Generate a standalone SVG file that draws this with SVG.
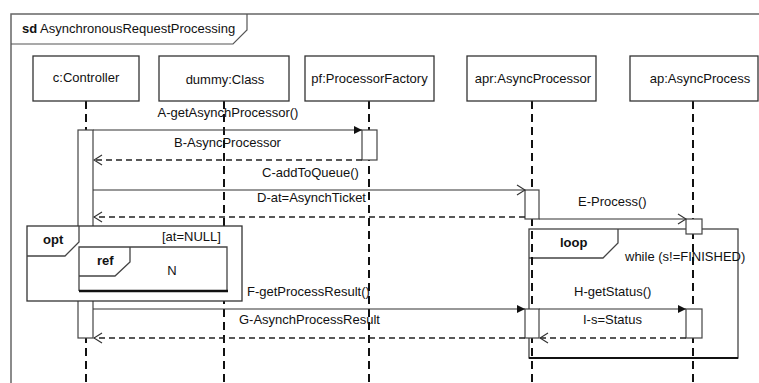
<svg xmlns="http://www.w3.org/2000/svg" width="759" height="383" viewBox="0 0 759 383">
<defs>
<style>
text{font-family:"Liberation Sans",Arial,sans-serif;font-size:13px;fill:#111}
.b{font-weight:bold}
.box{fill:#fff;stroke:#333;stroke-width:1.3}
.life{stroke:#111;stroke-width:2;stroke-dasharray:8 5;fill:none}
.act{fill:#fff;stroke:#444;stroke-width:1.2}
.msg{stroke:#333;stroke-width:1.2;fill:none}
.ret{stroke:#222;stroke-width:1.5;stroke-dasharray:6 4;fill:none}
.frm{fill:none;stroke:#444;stroke-width:1.3}
</style>
<marker id="fill" viewBox="0 0 8 8" refX="8" refY="4" markerWidth="8" markerHeight="8" markerUnits="userSpaceOnUse" orient="auto">
<path d="M0,0 L8,4 L0,8 Z" fill="#111"/>
</marker>
<marker id="open" viewBox="0 0 10 12" refX="9" refY="6" markerWidth="10" markerHeight="12" markerUnits="userSpaceOnUse" orient="auto">
<path d="M1,1 L9,6 L1,11" fill="none" stroke="#333" stroke-width="1.2"/>
</marker>
</defs>
<rect width="759" height="383" fill="#fff"/>

<g id="frame">
<path d="M11,383 V14 H759" fill="none" stroke="#666" stroke-width="1.5"/>
<path d="M11,44 H233 L247,30 V14" fill="none" stroke="#555" stroke-width="1.2"/>
<text x="22" y="33"><tspan class="b">sd</tspan> AsynchronousRequestProcessing</text>
</g>

<g id="loop">
<rect class="frm" x="529" y="229" width="209" height="129"/>
<line x1="529" y1="358" x2="738" y2="358" stroke="#111" stroke-width="2"/>
<path class="frm" d="M529,258 H603 L618,243 V229"/>
<text class="b" x="560" y="247">loop</text>
<text x="625" y="261">while (s!=FINISHED)</text>
</g>

<g id="controller">
<line class="life" x1="86" y1="101" x2="86" y2="383"/>
<rect class="box" x="33" y="56" width="106" height="45"/>
<text x="86" y="82" text-anchor="middle">c:Controller</text>
</g>
<g id="dummy">
<line class="life" x1="224" y1="101" x2="224" y2="383"/>
<rect class="box" x="159" y="56" width="130" height="45"/>
<text x="225" y="84" text-anchor="middle">dummy:Class</text>
</g>
<g id="factory">
<line class="life" x1="369" y1="101" x2="369" y2="383"/>
<rect class="box" x="305" y="56" width="129" height="45"/>
<text x="369.5" y="83" text-anchor="middle">pf:ProcessorFactory</text>
</g>
<g id="processor">
<line class="life" x1="532" y1="101" x2="532" y2="383"/>
<rect class="box" x="467" y="56" width="129" height="45"/>
<text x="533" y="83" text-anchor="middle">apr:AsyncProcessor</text>
</g>
<g id="process">
<line class="life" x1="693" y1="101" x2="693" y2="383"/>
<rect class="box" x="630" y="56" width="128" height="45"/>
<text x="700" y="83" text-anchor="middle">ap:AsyncProcess</text>
</g>

<g id="activations">
<rect class="act" x="78" y="130" width="15" height="208"/>
<rect class="act" x="362" y="130" width="15" height="30"/>
<rect class="act" x="525" y="190" width="14" height="29"/>
<rect class="act" x="686" y="219" width="16" height="15"/>
<rect class="act" x="525" y="309" width="14" height="29"/>
<rect class="act" x="686" y="309" width="16" height="29"/>
</g>

<g id="connectors">
<line class="msg" x1="93" y1="130" x2="362" y2="130" marker-end="url(#fill)"/>
<text x="228" y="117" text-anchor="middle">A-getAsynchProcessor()</text>
<line class="ret" x1="362" y1="160" x2="94" y2="160" marker-end="url(#open)"/>
<text x="227.5" y="147" text-anchor="middle">B-AsyncProcessor</text>
<line class="msg" x1="93" y1="190" x2="525" y2="190" marker-end="url(#open)"/>
<text x="262" y="177">C-addToQueue()</text>
<line class="ret" x1="525" y1="217" x2="94" y2="217" marker-end="url(#open)"/>
<text x="257" y="202">D-at=AsynchTicket</text>
<line class="msg" x1="539" y1="219" x2="686" y2="219" marker-end="url(#open)"/>
<text x="578" y="206">E-Process()</text>
<line class="msg" x1="93" y1="309" x2="525" y2="309" marker-end="url(#fill)"/>
<text x="247" y="296">F-getProcessResult()</text>
<line class="ret" x1="525" y1="338" x2="94" y2="338" marker-end="url(#open)"/>
<text x="239" y="324">G-AsynchProcessResult</text>
<line class="msg" x1="539" y1="309" x2="686" y2="309" marker-end="url(#fill)"/>
<text x="574" y="296">H-getStatus()</text>
<line class="ret" x1="686" y1="338" x2="540" y2="338" marker-end="url(#open)"/>
<text x="583" y="324">I-s=Status</text>
</g>

<g id="opt">
<rect x="27" y="226" width="215" height="75" fill="#fff" stroke="#333" stroke-width="1.3"/>
<path class="frm" d="M27,256 H65 L79,242 V226"/>
<text class="b" x="43" y="244">opt</text>
<text x="162" y="241">[at=NULL]</text>
</g>
<g id="ref">
<path class="frm" d="M79,291 V247 H227 V291"/>
<line x1="79" y1="291" x2="228" y2="291" stroke="#111" stroke-width="2.5"/>
<path class="frm" d="M79,276 H115 L130,262 V247"/>
<text class="b" x="97" y="265">ref</text>
<text x="172" y="275" text-anchor="middle">N</text>
</g>
</svg>
